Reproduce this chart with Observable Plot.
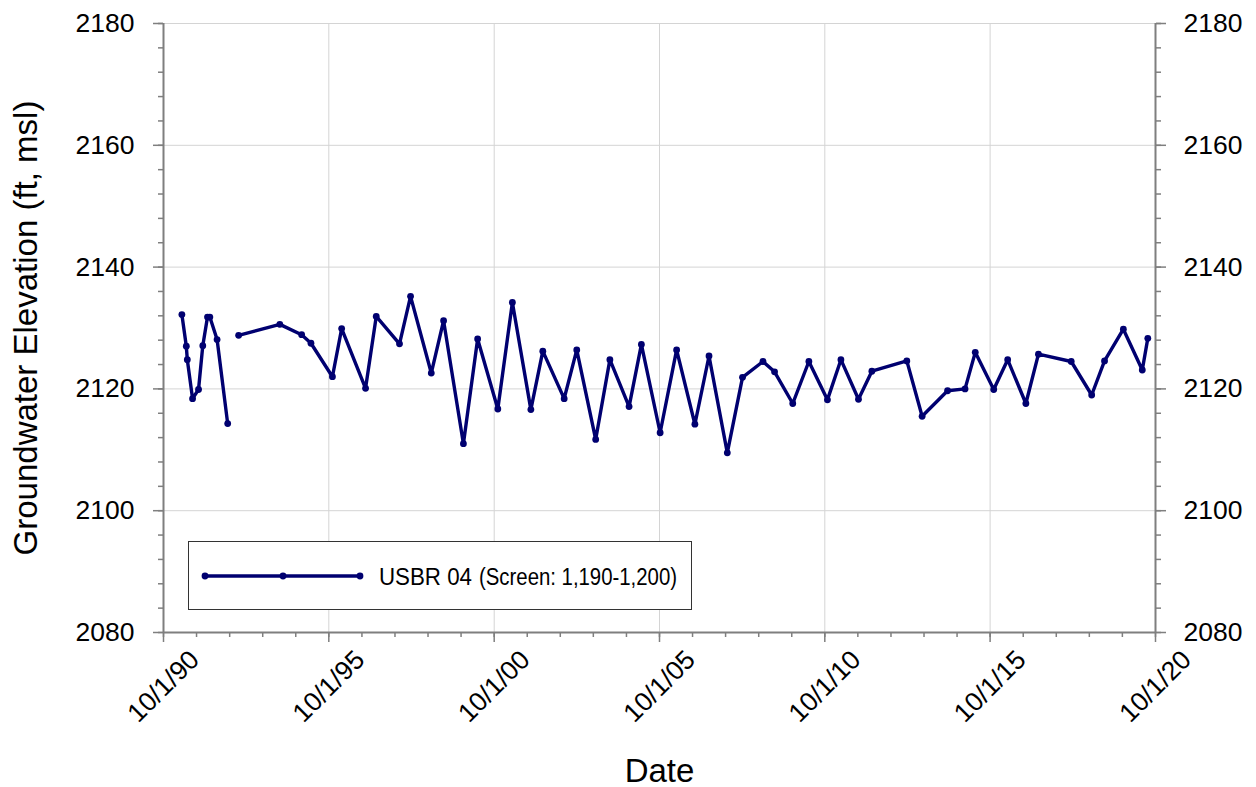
<!DOCTYPE html>
<html>
<head>
<meta charset="utf-8">
<script src="https://cdn.jsdelivr.net/npm/d3@7"></script>
<script src="https://cdn.jsdelivr.net/npm/@observablehq/plot@0.6"></script>
<style>
  html, body { margin: 0; padding: 0; background: #fff; }
  #chart { position: relative; width: 1256px; height: 787px; }
</style>
</head>
<body>
<div id="chart"></div>
<script>
// ---- data ----
const dates = [
  "1991-04-22","1991-06-10","1991-06-21","1991-08-18","1991-10-23","1991-12-09","1992-01-30","1992-02-25","1992-05-15","1992-09-09",
  "1993-01-08","1994-04-08","1994-12-05","1995-03-18","1995-11-10","1996-02-20","1996-11-10","1997-03-08","1997-11-20","1998-03-22",
  "1998-11-06","1999-03-22","1999-10-27","2000-04-01","2000-11-10","2001-04-20","2001-11-10","2002-03-22","2002-11-13","2003-04-01",
  "2003-10-27","2004-04-01","2004-10-30","2005-03-15","2005-10-08","2006-04-08","2006-10-27","2007-04-01","2007-10-20","2008-04-05",
  "2008-11-17","2009-03-25","2009-10-12","2010-04-08","2010-10-30","2011-03-28","2011-10-08","2012-03-04","2013-03-25","2013-09-10",
  "2014-06-18","2014-12-28","2015-04-20","2015-11-10","2016-04-12","2016-10-30","2017-03-18","2018-03-15","2018-10-27","2019-03-18",
  "2019-10-12","2020-05-08","2020-07-08"
];
const elevations = [
  2132.2,2127.0,2124.8,2118.4,2119.9,2127.1,2131.8,2131.8,2128.1,2114.3,
  2128.8,2130.6,2128.9,2127.5,2122.0,2129.9,2120.1,2131.9,2127.4,2135.2,
  2122.6,2131.2,2111.0,2128.2,2116.7,2134.2,2116.6,2126.2,2118.4,2126.4,
  2111.7,2124.8,2117.1,2127.3,2112.8,2126.4,2114.2,2125.4,2109.5,2121.9,
  2124.5,2122.8,2117.6,2124.5,2118.2,2124.8,2118.3,2122.9,2124.6,2115.5,
  2119.7,2120.0,2126.0,2119.9,2124.8,2117.6,2125.7,2124.5,2119.0,2124.6,
  2129.8,2123.1,2128.3
];
// line segment id (the record is interrupted after 9/1992)
const segments = [
  1,1,1,1,1,1,1,1,1,1,
  2,2,2,2,2,2,2,2,2,2,
  2,2,2,2,2,2,2,2,2,2,
  2,2,2,2,2,2,2,2,2,2,
  2,2,2,2,2,2,2,2,2,2,
  2,2,2,2,2,2,2,2,2,2,
  2,2,2
];
const seriesName = "USBR 04";
const seriesNote = "(Screen: 1,190-1,200)";

const majorYears = [1990, 1995, 2000, 2005, 2010, 2015, 2020];
const xTickLabels = ["10/1/90","10/1/95","10/1/00","10/1/05","10/1/10","10/1/15","10/1/20"];
const minorYears = d3.range(1990, 2021);
const yTicks = [2080, 2100, 2120, 2140, 2160, 2180];
const yMinorTicks = d3.range(2080, 2181, 4);

const xTitle = "Date";
const yTitle = "Groundwater Elevation (ft, msl)";

// ---- build ----
const table = dates.map((d, i) => ({date: new Date(d), value: elevations[i], seg: segments[i]}));
const oct1 = y => new Date(Date.UTC(y, 9, 1));
const majorDates = majorYears.map(oct1);
const minorDates = minorYears.map(oct1);
const xDomain = [oct1(1990), oct1(2020)];
const yDomain = [2080, 2180];

const navy = "#000070";
const axisGray = "#7f7f7f";
const gridGray = "#d4d4d4";
const font = "'Liberation Sans', Arial, Helvetica, sans-serif";
const tickFont = 26.5;
const titleFont = 33;

const chart = Plot.plot({
  width: 1256,
  height: 787,
  marginLeft: 163,
  marginRight: 101,
  marginTop: 23,
  marginBottom: 155,
  style: {fontFamily: font, fontSize: tickFont + "px", color: "#000", background: "#fff", overflow: "visible"},
  x: {type: "utc", domain: xDomain},
  y: {domain: yDomain},
  marks: [
    Plot.gridX(majorDates, {stroke: gridGray, strokeOpacity: 1, strokeWidth: 1}),
    Plot.gridY(yTicks, {stroke: gridGray, strokeOpacity: 1, strokeWidth: 1}),
    // minor ticks
    Plot.axisY(yMinorTicks, {anchor: "left", tickSize: 5, tickFormat: () => "", label: null, stroke: axisGray, strokeWidth: 1.5}),
    Plot.axisY(yMinorTicks, {anchor: "right", tickSize: 5, tickFormat: () => "", label: null, stroke: axisGray, strokeWidth: 1.5}),
    Plot.axisX(minorDates, {anchor: "bottom", tickSize: 5, tickFormat: () => "", label: null, stroke: axisGray, strokeWidth: 1.5}),
    // major ticks + labels
    Plot.axisY(yTicks, {anchor: "left", tickSize: 10, tickPadding: 19, tickFormat: d => String(d), label: null, stroke: axisGray, strokeWidth: 1.5, fill: "#000", fontSize: tickFont}),
    Plot.axisY(yTicks, {anchor: "right", tickSize: 10, tickPadding: 18, tickFormat: d => String(d), label: null, stroke: axisGray, strokeWidth: 1.5, fill: "#000", fontSize: tickFont}),
    Plot.axisX(majorDates, {anchor: "bottom", tickSize: 10, tickFormat: () => "", label: null, stroke: axisGray, strokeWidth: 1.5}),
    Plot.text(majorDates, {
      x: d => d, text: (d, i) => xTickLabels[i], frameAnchor: "bottom",
      dy: 54, rotate: -45, textAnchor: "middle", lineAnchor: "middle", fontSize: tickFont, fill: "#000"
    }),
    // axis lines
    Plot.ruleX(xDomain, {stroke: axisGray, strokeWidth: 2}),
    Plot.ruleY([yDomain[0]], {stroke: axisGray, strokeWidth: 2}),
    // titles
    Plot.text([yTitle], {text: d => d, frameAnchor: "left", dx: -137, rotate: -90, fontSize: titleFont, textAnchor: "middle", lineAnchor: "middle", fill: "#000"}),
    Plot.text([xTitle], {text: d => d, frameAnchor: "bottom", dy: 139, fontSize: titleFont, textAnchor: "middle", lineAnchor: "middle", fill: "#000"}),
    // data
    Plot.line(table, {x: "date", y: "value", z: "seg", stroke: navy, strokeWidth: 3.4, curve: "linear"}),
    Plot.dot(table, {x: "date", y: "value", r: 3.4, fill: navy, stroke: "none"})
  ]
});

document.getElementById("chart").appendChild(chart);

// ---- legend (drawn inside the plot frame) ----
const svg = d3.select(chart);
const lg = svg.append("g").style("font-family", font);
lg.append("rect").attr("x", 188.5).attr("y", 541.5).attr("width", 503).attr("height", 68)
  .attr("fill", "#fff").attr("stroke", "#333").attr("stroke-width", 1);
lg.append("line").attr("x1", 205).attr("x2", 360).attr("y1", 576).attr("y2", 576)
  .attr("stroke", navy).attr("stroke-width", 3.4);
[205, 283, 360].forEach(cx => lg.append("circle").attr("cx", cx).attr("cy", 576).attr("r", 3.4).attr("fill", navy));
lg.append("text").attr("x", 379).attr("y", 585).attr("fill", "#000")
  .style("text-anchor", "start").style("font-size", "23.5px")
  .attr("textLength", 93).attr("lengthAdjust", "spacingAndGlyphs")
  .text(seriesName);
lg.append("text").attr("x", 479).attr("y", 585).attr("fill", "#000")
  .style("text-anchor", "start").style("font-size", "23.5px")
  .attr("textLength", 198).attr("lengthAdjust", "spacingAndGlyphs")
  .text(seriesNote);
</script>
</body>
</html>
